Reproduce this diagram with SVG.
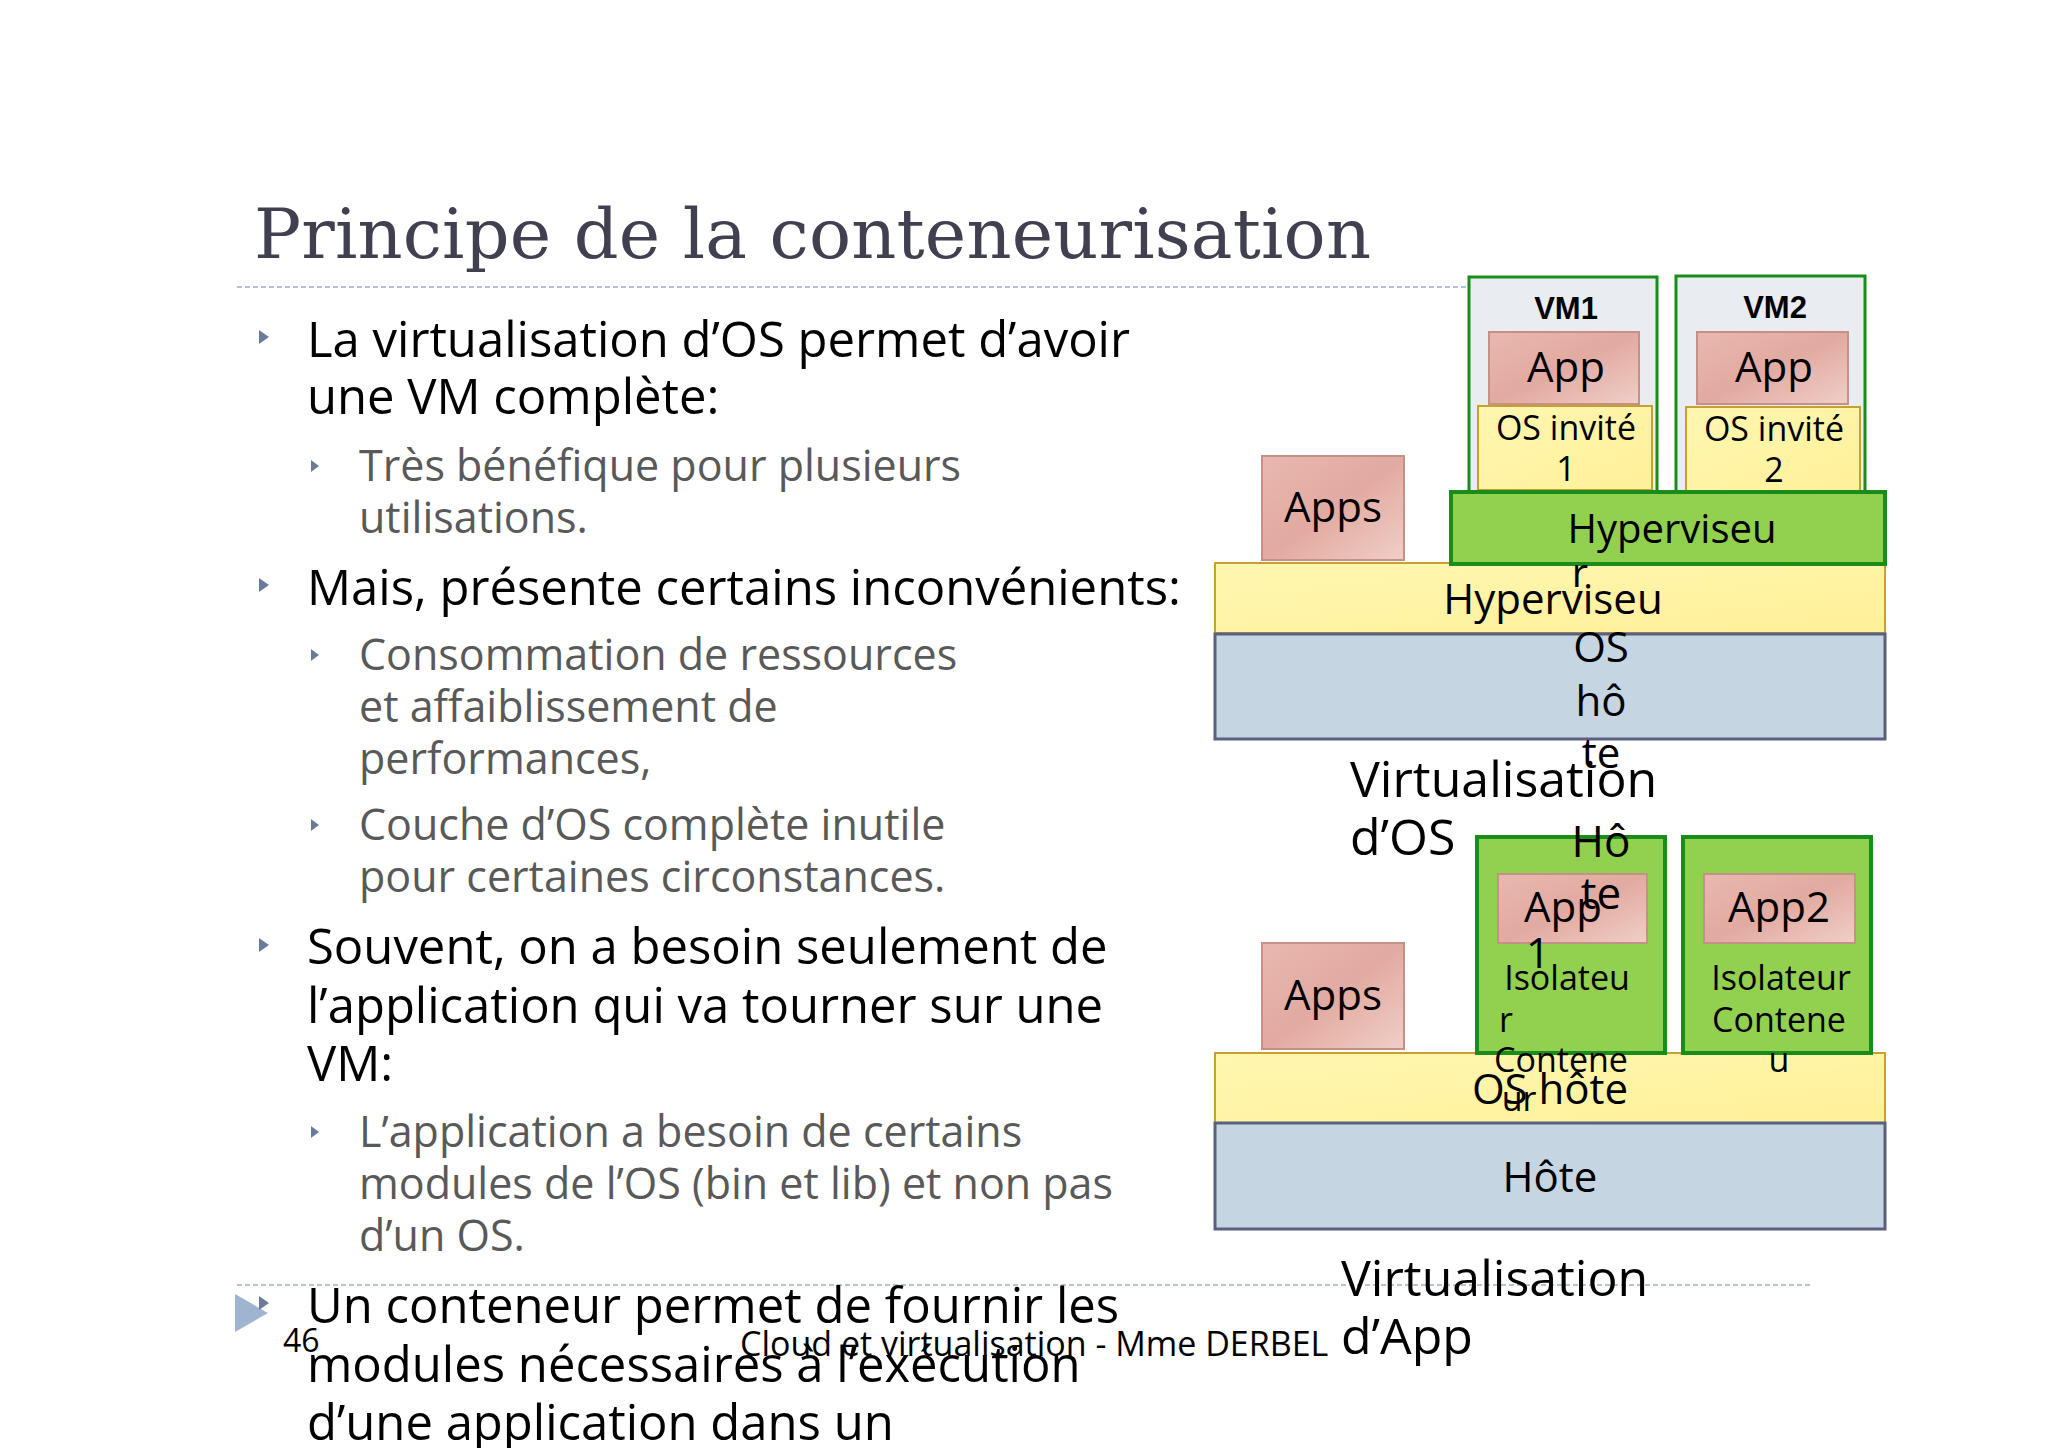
<svg xmlns="http://www.w3.org/2000/svg" width="2048" height="1448" viewBox="0 0 2048 1448">
<style>
.t{font-family:"Open Sans","Noto Sans",sans-serif;fill:#000}
.l1{font-size:49px}
.l2{font-size:43px;fill:#595959}
.d{font-size:42px;text-anchor:middle}
.s{font-size:34px;text-anchor:middle}
.app{fill:url(#pink);stroke:#c49088;stroke-width:2}
.ylw{fill:url(#yel);stroke:#c8a030;stroke-width:2}
.grn{fill:#92d050;stroke:#1a8c1a;stroke-width:4}
.vm{fill:#e9edf2;stroke:#1a8c1a;stroke-width:3}
.blu{fill:#c5d5e2;stroke:#5a6080;stroke-width:3}
.b{fill:#6a7a9a}
</style>
<defs>
<linearGradient id="pink" x1="0" y1="0" x2="1" y2="1"><stop offset="0" stop-color="#e8b8b0"/><stop offset="0.5" stop-color="#e2aaa0"/><stop offset="1" stop-color="#efcfc8"/></linearGradient>
<linearGradient id="yel" x1="0" y1="0" x2="1" y2="1"><stop offset="0" stop-color="#fff6b0"/><stop offset="1" stop-color="#fff19a"/></linearGradient>
</defs>
<rect width="2048" height="1448" fill="#fff"/>
<text x="254" y="258" font-family="DejaVu Serif,serif" font-size="70" fill="#404050" textLength="1117" lengthAdjust="spacing">Principe de la conteneurisation</text>
<line x1="237" y1="287" x2="1468" y2="287" stroke="#a0b0c8" stroke-width="1.5" stroke-dasharray="5,3"/>
<line x1="237" y1="1285" x2="1812" y2="1285" stroke="#a0b0c8" stroke-width="1.5" stroke-dasharray="5,3"/>
<g id="text">
<path class="b" d="M259 330 l10 7 l-10 7z"/>
<text class="t l1" x="307" y="357">La virtualisation d’OS permet d’avoir</text>
<text class="t l1" x="307" y="414">une VM complète:</text>
<path class="b" d="M311 460 l8 6 l-8 6z"/>
<text class="t l2" x="359" y="481">Très bénéfique pour plusieurs</text>
<text class="t l2" x="359" y="533">utilisations.</text>
<path class="b" d="M259 578 l10 7 l-10 7z"/>
<text class="t l1" x="307" y="605">Mais, présente certains inconvénients:</text>
<path class="b" d="M311 649 l8 6 l-8 6z"/>
<text class="t l2" x="359" y="670">Consommation de ressources</text>
<text class="t l2" x="359" y="722">et affaiblissement de</text>
<text class="t l2" x="359" y="774">performances,</text>
<path class="b" d="M311 819 l8 6 l-8 6z"/>
<text class="t l2" x="359" y="840">Couche d’OS complète inutile</text>
<text class="t l2" x="359" y="892">pour certaines circonstances.</text>
<path class="b" d="M259 938 l10 7 l-10 7z"/>
<text class="t l1" x="307" y="964">Souvent, on a besoin seulement de</text>
<text class="t l1" x="307" y="1023">l’application qui va tourner sur une</text>
<text class="t l1" x="307" y="1081">VM:</text>
<path class="b" d="M311 1126 l8 6 l-8 6z"/>
<text class="t l2" x="359" y="1147">L’application a besoin de certains</text>
<text class="t l2" x="359" y="1199">modules de l’OS (bin et lib) et non pas</text>
<text class="t l2" x="359" y="1251">d’un OS.</text>
<path d="M235 1294 l33 19 l-33 19z" fill="#9fb4d0"/>
<path class="b" d="M259 1296 l10 7 l-10 7z"/>
<text class="t l1" x="307" y="1323">Un conteneur permet de fournir les</text>
<text class="t l1" x="307" y="1382">modules nécessaires à l’exécution</text>
<text class="t l1" x="307" y="1440">d’une application dans un</text>
<text class="t" x="283" y="1352" font-size="32" fill="#777">46</text>
<text class="t" x="740" y="1356" font-size="34" fill="#666">Cloud et virtualisation - Mme DERBEL</text>
</g>
<g id="vm1"><rect class="vm" x="1469" y="277" width="188" height="215"/><text x="1566" y="319" font-family="Liberation Sans,sans-serif" font-weight="bold" font-size="31" text-anchor="middle">VM1</text></g>
<g id="vm2"><rect class="vm" x="1676" y="276" width="189" height="216"/><text x="1775" y="318" font-family="Liberation Sans,sans-serif" font-weight="bold" font-size="31" text-anchor="middle">VM2</text></g>
<g id="app1"><rect class="app" x="1489" y="332" width="150" height="72"/><text class="t d" x="1566" y="382">App</text></g>
<g id="app2"><rect class="app" x="1697" y="332" width="151" height="72"/><text class="t d" x="1774" y="382">App</text></g>
<g id="os1"><rect class="ylw" x="1478" y="406" width="174" height="84"/><text class="t s" x="1566" y="440">OS invité</text><text class="t s" x="1566" y="481">1</text></g>
<g id="os2"><rect class="ylw" x="1686" y="407" width="174" height="84"/><text class="t s" x="1774" y="441">OS invité</text><text class="t s" x="1774" y="482">2</text></g>
<g id="apps1"><rect class="app" x="1262" y="456" width="142" height="104"/><text class="t d" x="1333" y="522">Apps</text></g>
<g id="hostOS1"><rect class="ylw" x="1215" y="563" width="670" height="70"/><text class="t d" x="1553" y="614">Hyperviseu</text></g>
<g id="hyp"><rect class="grn" x="1451" y="492" width="434" height="72"/><text class="t" x="1672" y="543" font-size="40" text-anchor="middle">Hyperviseu</text><text class="t" x="1580" y="587" font-size="40" text-anchor="middle">r</text></g>
<g id="host1"><rect class="blu" x="1215" y="634" width="670" height="105"/><text class="t d" x="1601" y="662">OS</text><text class="t d" x="1601" y="716">hô</text><text class="t d" x="1601" y="768">te</text></g>
<g id="apps2"><rect class="app" x="1262" y="943" width="142" height="106"/><text class="t d" x="1333" y="1010">Apps</text></g>
<g id="hostOS2"><rect class="ylw" x="1215" y="1053" width="670" height="70"/></g>
<g id="host2"><rect class="blu" x="1215" y="1123" width="670" height="106"/><text class="t d" x="1550" y="1192">Hôte</text></g>
<g id="c1"><rect class="grn" x="1477" y="837" width="188" height="216"/><rect class="app" x="1498" y="874" width="149" height="69"/><text class="t d" x="1563" y="922">App</text><text class="t d" x="1538" y="968">1</text><text class="t s" x="1567" y="990">Isolateu</text><text class="t s" x="1506" y="1032">r</text><text class="t s" x="1561" y="1072">Contene</text><text class="t s" x="1519" y="1111">ur</text></g>
<g id="c2"><rect class="grn" x="1683" y="837" width="188" height="216"/><rect class="app" x="1704" y="874" width="151" height="69"/><text class="t d" x="1779" y="922">App2</text><text class="t s" x="1781" y="990">Isolateur</text><text class="t s" x="1779" y="1032">Contene</text><text class="t s" x="1779" y="1072">u</text></g>
<g id="hostOS2label"><text class="t d" x="1550" y="1104">OS hôte</text></g>
<g id="cap1"><text class="t" x="1350" y="797" font-size="50">Virtualisation</text><text class="t" x="1350" y="855" font-size="50">d’OS</text><text class="t" x="1601" y="857" font-size="44" text-anchor="middle">Hô</text><text class="t" x="1601" y="909" font-size="44" text-anchor="middle">te</text></g>
<g id="cap2"><text class="t" x="1341" y="1296" font-size="50">Virtualisation</text><text class="t" x="1341" y="1354" font-size="50">d’App</text></g>
<g id="connectors"/>
</svg>
